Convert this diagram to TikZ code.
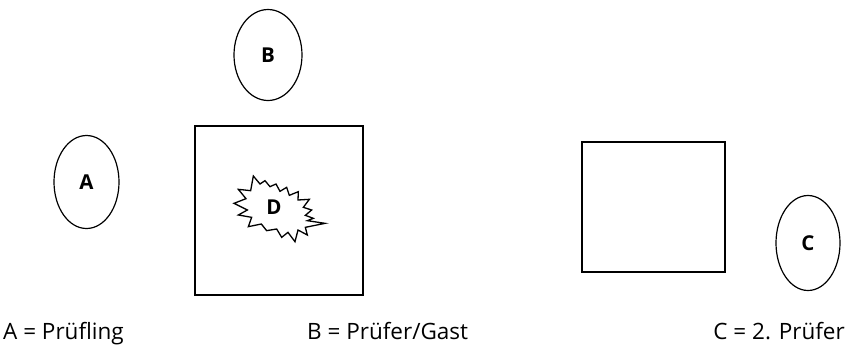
\documentclass[tikz,border=0pt]{standalone}
\usepackage{fontspec}
\setmainfont{Open Sans}
\usetikzlibrary{shapes.geometric}
\tikzset{
  person/.style={ellipse, draw, line width=1.2pt, inner sep=0pt, font=\bfseries\fontsize{20.5}{20.5}\selectfont},
  table/.style={draw, line width=1.2pt, inner sep=0pt},
  legend/.style={anchor=base west, inner sep=0pt, font=\fontsize{22.5}{22.5}\selectfont}
}
\begin{document}
\begin{tikzpicture}[x=1pt,y=-1pt]
\useasboundingbox (0,0) rectangle (847,346);
\node[person, minimum width=65pt, minimum height=93pt] (A) at (86.5,182) {A};
\node[person, minimum width=68pt, minimum height=91pt] (B) at (268,55) {B};
\node[person, minimum width=64pt, minimum height=95pt] (C) at (808,243) {C};
\node[table, minimum width=168pt, minimum height=169pt] (T1) at (279,210.5) {};
\node[table, minimum width=143pt, minimum height=130pt] (T2) at (653.5,207) {};
\begin{scope}[shift={(220,160)}, x=1/3pt, y=-1/3pt]
\draw[line width=1.3pt, line join=miter]
 (42,130) -- (78,116) -- (55,88) -- (92,92) -- (100,48) -- (120,72) -- (135,62)
 -- (150,80) -- (168,72) -- (180,94) -- (200,82) -- (208,106) -- (235,95)
 -- (234,120) -- (268,118) -- (250,142) -- (275,150) -- (256,166) -- (280,175)
 -- (262,182) -- (315,190) -- (256,202) -- (262,225) -- (234,210) -- (225,245)
 -- (204,217) -- (185,232) -- (170,207) -- (140,212) -- (124,192) -- (85,200)
 -- (95,172) -- (55,165) -- (82,150) -- cycle;
\node[font=\bfseries\fontsize{20.5}{20.5}\selectfont, inner sep=0pt] (D) at (162,142) {D};
\end{scope}
\node[legend] (LA) at (3,339) {A = Prüfling};
\node[legend] (LB) at (307,339) {B = Prüfer/Gast};
\node[legend, anchor=base east] (LC) at (845,339) {C = 2. Prüfer};
\end{tikzpicture}
\end{document}
